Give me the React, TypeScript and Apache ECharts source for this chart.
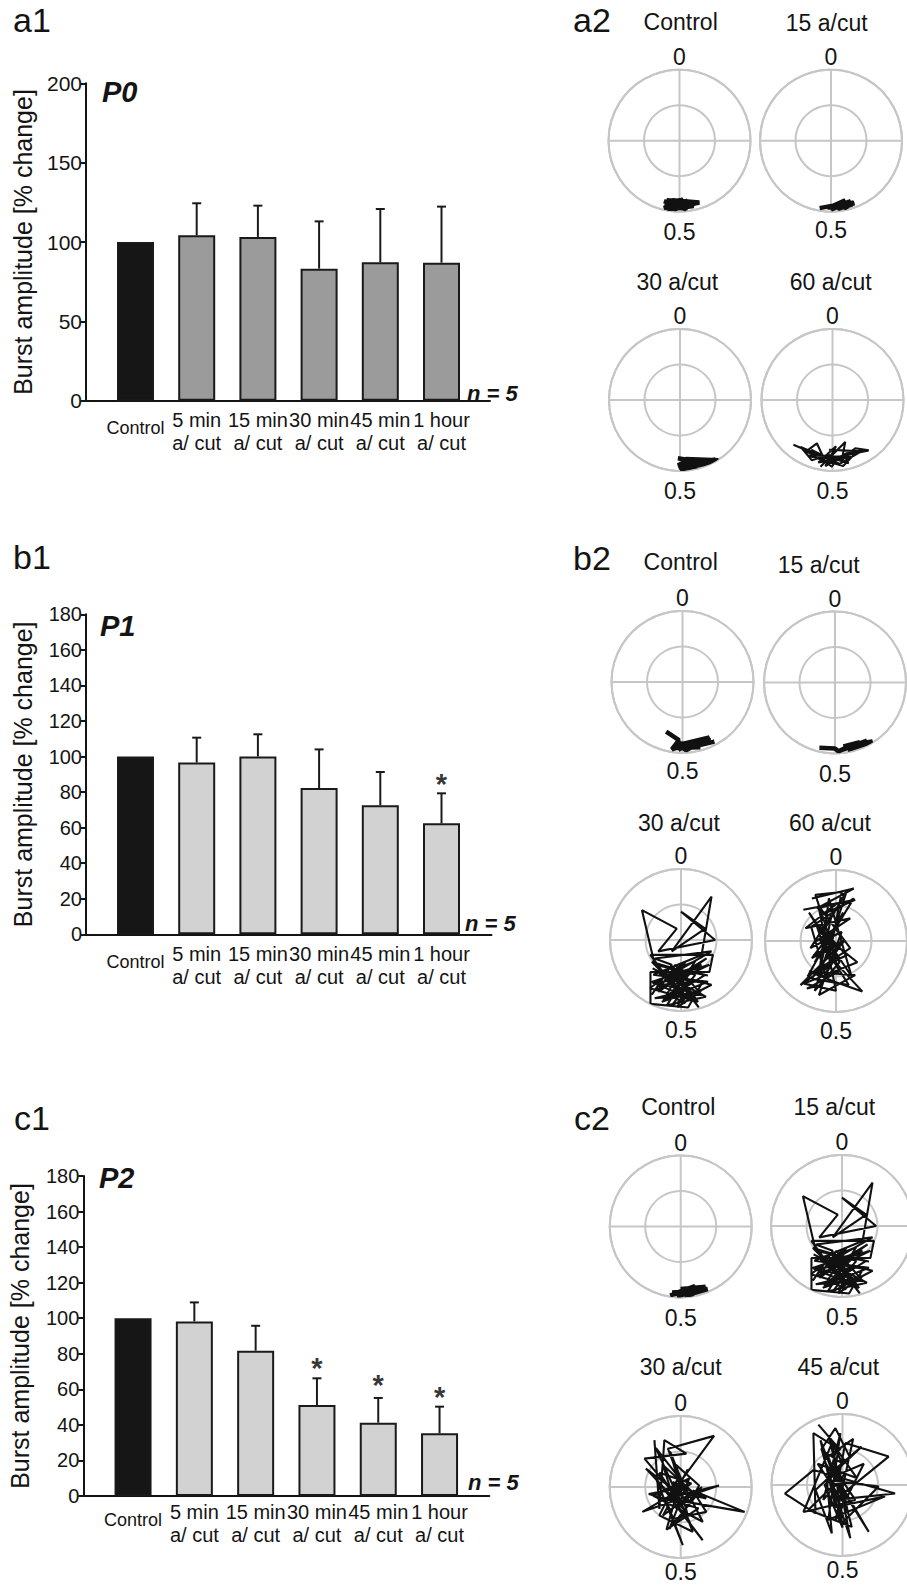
import React, { useEffect, useRef } from 'react';
import * as echarts from 'echarts';

// ---------- bar chart data ----------
const categories = ['Control', '5 min\na/ cut', '15 min\na/ cut', '30 min\na/ cut', '45 min\na/ cut', '1 hour\na/ cut'];
const p0Mean = [100, 104.2, 103.2, 83.2, 87.2, 87];
const p0Sem = [0, 20.2, 19.7, 29.8, 33.6, 35.3];
const p1Mean = [100, 96.6, 100, 82.3, 72.6, 62.4];
const p1Sem = [0, 14, 12.5, 21.7, 18.7, 16.9];
const p2Mean = [100, 98.2, 81.75, 51.2, 41.25, 35.25];
const p2Sem = [0, 10.7, 14, 15, 13.9, 15];
const p0Stars: number[][] = [];
const p1Stars = [[5, 88.6]];
const p2Stars = [[3, 76.1], [4, 66.2], [5, 59.6]];
const p0Ticks = { max: 200, interval: 50 };
const p1Ticks = { max: 180, interval: 20 };
const p2Ticks = { max: 180, interval: 20 };

// ---------- phase trajectories (unit-circle components: x = r*sin(2πφ), y = r*cos(2πφ)) ----------
const a2Control = [[-0.22, -0.85], [0.05, -0.95], [-0.2, -0.93], [0.1, -0.86], [-0.15, -0.96], [0.15, -0.9], [-0.1, -0.84], [0.28, -0.87], [0.0, -0.93], [-0.21, -0.89], [0.12, -0.95], [-0.05, -0.86], [0.2, -0.92], [-0.18, -0.97], [0.05, -0.88], [-0.2, -0.9], [0.15, -0.86], [-0.18, -0.84], [0.1, -0.97], [-0.12, -0.88], [0.05, -0.83], [-0.22, -0.95], [0.18, -0.88], [-0.08, -0.97], [0.12, -0.84]];
const a2Cut15 = [[-0.16, -0.95], [0.1, -0.9], [0.0, -0.97], [0.25, -0.86], [0.05, -0.93], [0.33, -0.88], [0.1, -0.96], [0.2, -0.84], [0.02, -0.92], [0.3, -0.9], [0.15, -0.94], [-0.05, -0.94], [0.22, -0.9], [0.08, -0.95], [0.28, -0.85], [0.12, -0.92], [0.32, -0.87], [0.18, -0.96]];
const a2Cut30 = [[-0.03, -0.82], [0.2, -0.86], [-0.02, -0.95], [0.5, -0.84], [0.05, -0.9], [0.35, -0.9], [0.0, -0.98], [0.25, -0.93], [0.08, -0.83], [0.54, -0.85], [0.1, -0.96], [0.3, -0.88], [0.02, -0.88], [0.15, -0.84], [-0.03, -0.92], [0.4, -0.87], [0.06, -0.97], [0.22, -0.9]];
const a2Cut60 = [[-0.55, -0.63], [-0.15, -0.8], [-0.38, -0.73], [-0.22, -0.61], [-0.1, -0.87], [0.04, -0.73], [-0.17, -0.94], [0.18, -0.59], [0.13, -0.85], [0.32, -0.68], [0.51, -0.71], [0.08, -0.8], [-0.01, -0.94], [-0.24, -0.75], [0.23, -0.89], [-0.06, -0.77], [-0.29, -0.85], [-0.45, -0.66], [0.0, -0.85], [-0.3, -0.7], [0.1, -0.9], [0.45, -0.7], [0.2, -0.75], [-0.1, -0.93], [0.05, -0.65], [-0.2, -0.88], [0.28, -0.8], [-0.35, -0.78], [0.15, -0.93], [0.35, -0.72], [-0.05, -0.7]];
const b2Control = [[-0.23, -0.7], [-0.05, -0.82], [-0.15, -0.95], [0.15, -0.85], [-0.05, -0.93], [0.35, -0.8], [0.1, -0.92], [0.45, -0.84], [0.2, -0.9], [0.0, -0.88], [0.3, -0.86], [-0.12, -0.9], [0.38, -0.78], [0.05, -0.96], [-0.1, -0.85], [0.25, -0.92], [-0.14, -0.93], [0.4, -0.82], [0.08, -0.86], [-0.06, -0.96]];
const b2Cut15 = [[-0.22, -0.92], [0.0, -0.93], [0.05, -0.97], [0.15, -0.92], [0.3, -0.88], [0.1, -0.95], [0.45, -0.82], [0.2, -0.93], [0.53, -0.83], [0.25, -0.87], [0.4, -0.88], [0.12, -0.9], [0.35, -0.84], [0.18, -0.95], [0.48, -0.85], [0.22, -0.89]];
const b2Cut30 = [[-0.41, -0.77], [-0.13, -0.35], [-0.37, -0.26], [0.43, -0.16], [-0.23, -0.54], [0.29, -0.35], [-0.41, -0.59], [0.15, -0.73], [-0.27, -0.87], [0.34, -0.49], [-0.37, -0.35], [-0.55, 0.42], [-0.06, 0.16], [-0.32, -0.16], [0.48, 0.0], [0.0, 0.4], [0.34, 0.16], [-0.13, -0.16], [0.43, 0.61], [0.29, -0.21], [-0.39, -0.49], [0.38, -0.59], [-0.23, -0.82], [0.06, -0.31], [-0.44, -0.68], [0.24, -0.87], [-0.04, -0.49], [-0.32, -0.73], [0.36, -0.26], [-0.18, -0.59], [0.1, -0.82], [-0.41, -0.31], [0.2, -0.49], [-0.13, -0.92], [0.43, -0.63], [-0.32, -0.45], [0.01, -0.73], [-0.37, -0.82], [0.29, -0.77], [-0.08, -0.35], [-0.27, -0.63], [0.15, -0.59], [-0.18, -0.77], [0.06, -0.89], [-0.43, -0.21], [0.45, -0.21], [0.4, -0.45], [-0.43, -0.45], [-0.43, -0.9], [0.1, -0.95], [0.3, -0.6], [-0.3, -0.5], [0.2, -0.3], [-0.2, -0.92], [0.35, -0.8], [-0.4, -0.4], [0.0, -0.6], [0.25, -0.95], [-0.1, -0.5], [0.4, -0.35], [-0.35, -0.7], [0.15, -0.45], [-0.25, -0.85], [0.3, -0.7], [-0.05, -0.95], [0.1, -0.55], [-0.4, -0.6], [0.2, -0.85], [-0.15, -0.4], [0.38, -0.5]];
const b2Cut60 = [[-0.34, 0.6], [0.25, 0.74], [-0.27, 0.46], [0.13, 0.55], [-0.46, 0.44], [0.27, 0.58], [-0.2, 0.37], [-0.01, 0.51], [-0.43, 0.18], [0.2, 0.32], [-0.29, -0.01], [-0.06, 0.13], [-0.34, -0.24], [0.11, -0.01], [-0.5, -0.62], [-0.1, -0.34], [-0.24, -0.76], [0.27, -0.48], [-0.38, -0.43], [-0.03, -0.57], [0.37, -0.71], [-0.15, -0.15], [-0.29, 0.27], [0.15, -0.2], [-0.22, -0.38], [-0.06, 0.37], [-0.36, -0.1], [0.08, 0.13], [-0.2, -0.62], [-0.41, -0.67], [0.04, -0.43], [-0.15, 0.23], [-0.29, 0.65], [0.08, 0.69], [-0.08, -0.15], [-0.34, -0.53], [0.18, -0.62], [-0.24, 0.04], [-0.01, -0.24], [-0.15, -0.48], [-0.35, 0.2], [0.25, 0.6], [-0.3, -0.3], [0.1, 0.4], [-0.4, -0.5], [0.2, -0.1], [-0.25, 0.5], [0.0, -0.7], [-0.45, -0.6], [0.3, -0.3], [-0.2, 0.1], [0.15, 0.7], [-0.3, -0.7], [0.05, -0.3], [-0.38, 0.4], [0.22, -0.5], [-0.1, 0.6], [-0.25, -0.55], [0.1, 0.0], [-0.32, -0.2]];
const c2Control = [[-0.15, -0.97], [0.1, -0.9], [-0.05, -0.99], [0.3, -0.86], [0.0, -0.93], [0.38, -0.88], [0.15, -0.95], [0.2, -0.84], [-0.1, -0.95], [0.25, -0.91], [0.05, -0.97], [0.35, -0.85], [0.0, -0.88], [0.28, -0.9], [-0.12, -0.93], [0.18, -0.97], [0.1, -0.85]];
const c2Cut15 = b2Cut30;
const c2Cut30 = [[-0.37, 0.66], [-0.3, -0.31], [-0.23, 0.66], [0.08, 0.47], [-0.51, 0.4], [-0.11, -0.07], [0.47, 0.72], [-0.18, 0.54], [0.03, -0.02], [-0.54, -0.35], [0.54, 0.02], [-0.21, -0.16], [0.9, -0.35], [0.17, -0.05], [0.36, -0.35], [-0.11, -0.45], [0.03, -0.82], [-0.35, 0.12], [0.31, -0.75], [-0.07, -0.26], [-0.25, 0.31], [0.22, -0.12], [-0.16, -0.59], [0.12, 0.12], [-0.39, -0.12], [0.31, -0.49], [-0.02, 0.16], [-0.3, -0.4], [0.17, -0.63], [-0.11, 0.07], [0.36, -0.16], [-0.25, -0.02], [0.08, -0.35], [-0.49, 0.26], [0.12, -0.21], [-0.11, 0.35], [0.26, 0.02], [-0.07, -0.54], [-0.2, -0.2], [0.15, 0.05], [-0.3, 0.2], [0.1, -0.4], [-0.15, 0.5], [0.05, 0.0], [-0.45, -0.1], [0.25, -0.3], [-0.2, -0.6], [0.0, 0.1], [-0.35, 0.55], [0.15, -0.55], [-0.05, -0.25], [0.3, 0.0], [-0.25, -0.4], [0.1, 0.25]];
const c2Cut45 = [[-0.34, 0.85], [-0.03, 0.49], [-0.41, 0.73], [-0.38, -0.4], [-0.81, -0.12], [-0.41, 0.21], [0.74, -0.12], [-0.1, -0.21], [0.65, 0.4], [0.04, 0.59], [-0.06, 0.07], [0.37, -0.66], [-0.24, 0.31], [0.11, -0.75], [-0.15, 0.59], [-0.55, -0.38], [0.18, -0.21], [-0.29, 0.49], [-0.01, -0.54], [0.51, -0.02], [-0.22, 0.07], [-0.15, -0.68], [-0.38, -0.07], [0.27, 0.54], [-0.06, 0.26], [0.08, -0.4], [-0.31, 0.63], [-0.1, -0.31], [0.6, -0.16], [-0.2, -0.49], [-0.03, 0.73], [-0.27, -0.21], [0.04, 0.16], [-0.48, -0.35], [0.13, -0.59], [-0.2, 0.7], [0.0, 0.3], [-0.3, 0.5], [-0.1, 0.8], [0.1, 0.4], [-0.25, 0.0], [0.0, -0.6], [-0.15, 0.6], [0.2, 0.1], [-0.35, 0.3], [0.05, -0.3], [-0.2, 0.4], [0.15, 0.65], [-0.1, -0.5], [0.3, 0.3], [-0.05, 0.15]];

const FONT = '"Liberation Sans", Arial, Helvetica, sans-serif';
const INK = '#141414';
const GRAY = '#c6c6c6';

const barPanels = [
  { mean: p0Mean, sem: p0Sem, stars: p0Stars, ticks: p0Ticks, fill: '#9b9b9b', tickFont: 21, labelMargin: 8,
    outer: { left: 86, top: 83.3, width: 404, height: 317.4 }, inner: { left: 104.9, width: 367.2 } },
  { mean: p1Mean, sem: p1Sem, stars: p1Stars, ticks: p1Ticks, fill: '#d2d2d2', tickFont: 20, labelMargin: 8,
    outer: { left: 86, top: 614.3, width: 405.5, height: 320 }, inner: { left: 104.9, width: 367.2 } },
  { mean: p2Mean, sem: p2Sem, stars: p2Stars, ticks: p2Ticks, fill: '#d2d2d2', tickFont: 20, labelMargin: 4,
    outer: { left: 83.3, top: 1176, width: 406, height: 320 }, inner: { left: 102.4, width: 367.8 } },
];

const polarPanels = [
  { title: 'Control', data: a2Control, center: [679.5, 140.7], dense: true, tx: 680.7, ty: 21.7, blh: 37 },
  { title: '15 a/cut', data: a2Cut15, center: [831, 140.7], dense: true, tx: 826.7, ty: 23.3, blh: 33 },
  { title: '30 a/cut', data: a2Cut30, center: [680, 400], dense: true, tx: 677.3, ty: 281.7, blh: 37 },
  { title: '60 a/cut', data: a2Cut60, center: [832.5, 400], dense: false, tx: 830.7, ty: 281.7, blh: 37 },
  { title: 'Control', data: b2Control, center: [682.5, 682], dense: true, tx: 680.7, ty: 561.7, blh: 33 },
  { title: '15 a/cut', data: b2Cut15, center: [835, 682.5], dense: true, tx: 818.7, ty: 565, blh: 37 },
  { title: '30 a/cut', data: b2Cut30, center: [681, 940], dense: false, tx: 679, ty: 823.3, blh: 35 },
  { title: '60 a/cut', data: b2Cut60, center: [836, 941], dense: false, tx: 830, ty: 823.3, blh: 35 },
  { title: 'Control', data: c2Control, center: [680.7, 1226.5], dense: true, tx: 678.3, ty: 1106.7, blh: 37 },
  { title: '15 a/cut', data: c2Cut15, center: [842, 1226], dense: false, tx: 834.3, ty: 1106.7, blh: 37 },
  { title: '30 a/cut', data: c2Cut30, center: [680.7, 1487], dense: false, tx: 680.7, ty: 1366.7, blh: 25 },
  { title: '45 a/cut', data: c2Cut45, center: [842.5, 1485], dense: false, tx: 838.3, ty: 1366.7, blh: 25 },
];

const panelLabels = [
  { text: 'a1', x: 32, y: 20 }, { text: 'a2', x: 592, y: 19.5 },
  { text: 'b1', x: 32, y: 557 }, { text: 'b2', x: 592, y: 557.5 },
  { text: 'c1', x: 32, y: 1118 }, { text: 'c2', x: 592, y: 1117.5 },
];
const pLabels = [
  { text: 'P0', x: 102, y: 92 }, { text: 'P1', x: 100, y: 626 }, { text: 'P2', x: 99, y: 1177.5 },
];
const nLabels = [
  { text: 'n = 5', x: 467, y: 393 }, { text: 'n = 5', x: 465, y: 923.5 }, { text: 'n = 5', x: 468, y: 1482.5 },
];

function toPolar(p: number[]) {
  const r = Math.hypot(p[0], p[1]);
  let a = Math.atan2(p[0], p[1]) / (2 * Math.PI);
  if (a < 0) a += 1;
  return [r, a];
}

function buildOption() {
  const grid: any[] = [];
  const xAxis: any[] = [];
  const yAxis: any[] = [];
  const series: any[] = [];

  barPanels.forEach((bp, k) => {
    const gOuter = 2 * k;
    const gInner = 2 * k + 1;
    grid.push({ left: bp.outer.left, top: bp.outer.top, width: bp.outer.width, height: bp.outer.height });
    grid.push({ left: bp.inner.left, top: bp.outer.top, width: bp.inner.width, height: bp.outer.height });
    xAxis.push({
      gridIndex: gOuter, type: 'value', min: 0, max: 1,
      axisLine: { show: true, onZero: false, lineStyle: { color: INK, width: 2 } },
      axisTick: { show: false }, axisLabel: { show: false }, splitLine: { show: false },
    });
    xAxis.push({
      gridIndex: gInner, type: 'category', data: categories,
      axisLine: { show: false }, axisTick: { show: false }, splitLine: { show: false },
      axisLabel: {
        interval: 0, margin: bp.labelMargin, color: INK, fontFamily: FONT,
        formatter: (v: string) => (v === 'Control' ? `{c|${v}}` : v.split('\n').map((s) => `{a|${s}}`).join('\n')),
        rich: {
          a: { fontSize: 20, lineHeight: 23, fontFamily: FONT, color: INK },
          c: { fontSize: 18, lineHeight: 39, fontFamily: FONT, color: INK },
        },
      },
    });
    yAxis.push({
      gridIndex: gOuter, type: 'value', min: 0, max: bp.ticks.max, interval: bp.ticks.interval,
      axisLine: { show: true, lineStyle: { color: INK, width: 2 } },
      axisTick: { show: true, length: 5, lineStyle: { color: INK, width: 2 } },
      axisLabel: { margin: 4, fontSize: bp.tickFont, color: INK, fontFamily: FONT },
      splitLine: { show: false },
      name: 'Burst amplitude [% change]', nameLocation: 'middle', nameGap: 51,
      nameTextStyle: { fontSize: 25, color: INK, fontFamily: FONT },
    });
    yAxis.push({ gridIndex: gInner, type: 'value', min: 0, max: bp.ticks.max, show: false });

    series.push({
      type: 'bar', xAxisIndex: gInner, yAxisIndex: gInner, barWidth: 37,
      data: bp.mean.map((v, i) => ({ value: v, itemStyle: { color: i === 0 ? '#161616' : bp.fill } })),
      itemStyle: { borderColor: '#1a1a1a', borderWidth: 2 },
    });
    series.push({
      type: 'custom', xAxisIndex: gInner, yAxisIndex: gInner, z: 3,
      data: bp.mean.map((v, i) => [i, v, bp.sem[i]]).filter((d) => d[2] > 0),
      encode: { x: 0, y: 1 },
      renderItem: (params: any, api: any) => {
        const i = api.value(0);
        const m = api.value(1);
        const e = api.value(2);
        const p0 = api.coord([i, m]);
        const p1 = api.coord([i, m + e]);
        const st = { stroke: '#1a1a1a', lineWidth: 2 };
        return {
          type: 'group',
          children: [
            { type: 'line', shape: { x1: p0[0], y1: p0[1], x2: p1[0], y2: p1[1] }, style: st },
            { type: 'line', shape: { x1: p1[0] - 4.5, y1: p1[1], x2: p1[0] + 4.5, y2: p1[1] }, style: st },
          ],
        };
      },
    });
    if (bp.stars.length) {
      series.push({
        type: 'scatter', xAxisIndex: gInner, yAxisIndex: gInner, symbolSize: 1,
        itemStyle: { color: 'transparent' },
        data: bp.stars,
        label: { show: true, position: 'inside', formatter: '*', fontSize: 29, fontWeight: 'bold', color: '#000', fontFamily: FONT, offset: [0, 7] },
      });
    }
  });

  const polar = polarPanels.map((pp) => ({ center: pp.center, radius: 71 }));
  const angleAxis = polarPanels.map((pp, k) => ({
    polarIndex: k, type: 'value', min: 0, max: 1, interval: 0.25, startAngle: 90, clockwise: true,
    axisLine: { show: true, lineStyle: { color: GRAY, width: 2 } },
    axisTick: { show: false },
    splitLine: { show: true, lineStyle: { color: GRAY, width: 2 } },
    axisLabel: {
      show: true, margin: 1.5, color: INK, fontSize: 23, fontFamily: FONT,
      formatter: (v: number) => (v === 0 ? '{t|0}' : v === 0.5 ? '{b|0.5}' : ''),
      rich: {
        t: { fontSize: 23, fontFamily: FONT, color: INK },
        b: { fontSize: 23, fontFamily: FONT, color: INK, lineHeight: pp.blh },
      },
    },
  }));
  const radiusAxis = polarPanels.map((pp, k) => ({
    polarIndex: k, type: 'value', min: 0, max: 1, interval: 0.5,
    axisLine: { show: false }, axisTick: { show: false }, axisLabel: { show: false },
    splitLine: { show: true, lineStyle: { color: GRAY, width: 2 } },
  }));
  polarPanels.forEach((pp, k) => {
    series.push({
      type: 'line', coordinateSystem: 'polar', polarIndex: k, symbol: 'none', showSymbol: false,
      data: pp.data.map(toPolar),
      lineStyle: { color: '#111', width: pp.dense ? 4.5 : 2.1 },
      z: 5,
    });
  });

  const graphic: any[] = [];
  polarPanels.forEach((pp) => {
    graphic.push({ type: 'text', x: pp.tx, y: pp.ty, style: { text: pp.title, fontSize: 23, fontFamily: FONT, fill: INK, align: 'center', verticalAlign: 'middle' } });
  });
  panelLabels.forEach((l) => {
    graphic.push({ type: 'text', x: l.x, y: l.y, style: { text: l.text, fontSize: 34, fontFamily: FONT, fill: INK, align: 'center', verticalAlign: 'middle' } });
  });
  pLabels.forEach((l) => {
    graphic.push({ type: 'text', x: l.x, y: l.y, style: { text: l.text, fontSize: 29, fontWeight: 'bold', fontStyle: 'italic', fontFamily: FONT, fill: INK, align: 'left', verticalAlign: 'middle' } });
  });
  nLabels.forEach((l) => {
    graphic.push({ type: 'text', x: l.x, y: l.y, style: { text: l.text, fontSize: 22, fontWeight: 'bold', fontStyle: 'italic', fontFamily: FONT, fill: INK, align: 'left', verticalAlign: 'middle' } });
  });

  return {
    animation: false,
    backgroundColor: '#ffffff',
    grid, xAxis, yAxis, polar, angleAxis, radiusAxis, series, graphic,
  };
}

export default function App() {
  const ref = useRef<HTMLDivElement>(null);
  useEffect(() => {
    document.body.style.margin = '0';
    if (!ref.current) return;
    const chart = echarts.init(ref.current, undefined, { renderer: 'svg' });
    chart.setOption(buildOption() as any);
    return () => chart.dispose();
  }, []);
  return <div ref={ref} style={{ width: 907, height: 1585 }} />;
}
